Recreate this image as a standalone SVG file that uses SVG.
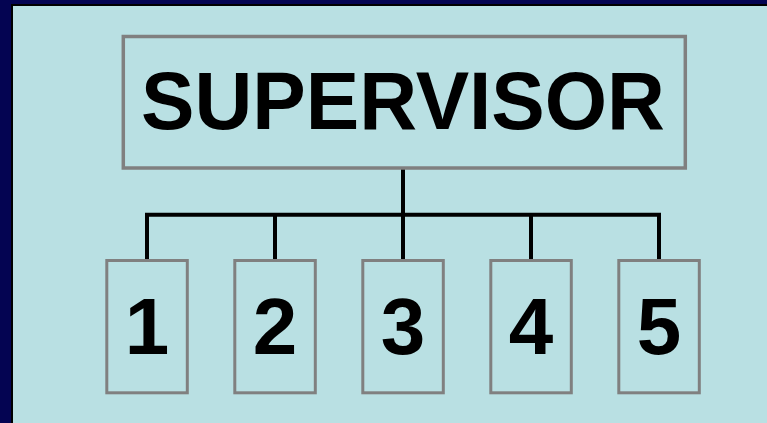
<svg xmlns="http://www.w3.org/2000/svg" width="767" height="423" viewBox="0 0 767 423">
  <style>
    .box { fill: none; stroke: #808080; }
    .lbl { font-family: "Liberation Sans", Arial, sans-serif; font-weight: bold; fill: #000; text-anchor: middle; }
    .conn { stroke: #000; stroke-width: 4; fill: none; }
  </style>
  <rect x="0" y="0" width="767" height="423" fill="#040452"/>
  <rect x="11" y="4" width="756" height="419" fill="#000"/>
  <rect x="13" y="6" width="754" height="417" fill="#B9E0E3"/>
  <g id="connectors">
    <path class="conn" d="M403 169 V214.7"/>
    <path class="conn" d="M147 259 V214.7 H659 V259"/>
    <path class="conn" d="M275 214.7 V259"/>
    <path class="conn" d="M403 214.7 V259"/>
    <path class="conn" d="M531 214.7 V259"/>
  </g>
  <g id="supervisor">
    <rect class="box" x="123.3" y="36.5" width="562" height="131.5" stroke-width="3.5"/>
    <text class="lbl" x="403" y="129.3" font-size="81" textLength="524" lengthAdjust="spacingAndGlyphs">SUPERVISOR</text>
  </g>
  <g id="n1">
    <rect class="box" x="106.8" y="260.5" width="80.5" height="132.3" stroke-width="3"/>
    <text class="lbl" x="147" y="353.5" font-size="80">1</text>
  </g>
  <g id="n2">
    <rect class="box" x="234.8" y="260.5" width="80.5" height="132.3" stroke-width="3"/>
    <text class="lbl" x="275" y="353.5" font-size="80">2</text>
  </g>
  <g id="n3">
    <rect class="box" x="362.8" y="260.5" width="80.5" height="132.3" stroke-width="3"/>
    <text class="lbl" x="403" y="353.5" font-size="80">3</text>
  </g>
  <g id="n4">
    <rect class="box" x="490.8" y="260.5" width="80.5" height="132.3" stroke-width="3"/>
    <text class="lbl" x="531" y="353.5" font-size="80">4</text>
  </g>
  <g id="n5">
    <rect class="box" x="618.8" y="260.5" width="80.5" height="132.3" stroke-width="3"/>
    <text class="lbl" x="659" y="353.5" font-size="80">5</text>
  </g>
</svg>
